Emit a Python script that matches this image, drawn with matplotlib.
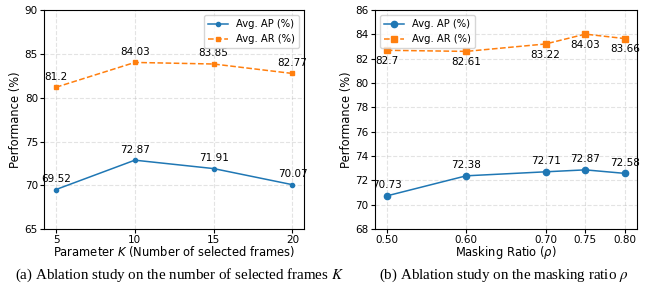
import matplotlib.pyplot as plt

# (a) number of selected frames K
k_values = [5, 10, 15, 20]
k_ap = [69.52, 72.87, 71.91, 70.07]
k_ar = [81.2, 84.03, 83.85, 82.77]
k_ap_labels = ['69.52', '72.87', '71.91', '70.07']
k_ar_labels = ['81.2', '84.03', '83.85', '82.77']

# (b) masking ratio rho
rho_values = [0.50, 0.60, 0.70, 0.75, 0.80]
rho_ticks = ['0.50', '0.60', '0.70', '0.75', '0.80']
rho_ap = [70.73, 72.38, 72.71, 72.87, 72.58]
rho_ar = [82.7, 82.61, 83.22, 84.03, 83.66]
rho_ap_labels = ['70.73', '72.38', '72.71', '72.87', '72.58']
rho_ar_labels = ['82.7', '82.61', '83.22', '84.03', '83.66']

blue = '#1f77b4'
orange = '#ff7f0e'
tick_fs = 7.5
label_fs = 8.3
note_fs = 7.5
legend_fs = 7.2

fig = plt.figure(figsize=(6.6, 2.9), dpi=100)
ax1 = fig.add_axes([0.067, 0.21, 0.394, 0.755])
ax2 = fig.add_axes([0.568, 0.21, 0.397, 0.755])

# left panel
ax1.plot(k_values, k_ap, '-o', color=blue, lw=1.1, ms=3, label='Avg. AP (%)')
ax1.plot(k_values, k_ar, '--s', color=orange, lw=1.1, ms=3, label='Avg. AR (%)')
for x, y, t in zip(k_values, k_ap, k_ap_labels):
    ax1.annotate(t, (x, y), xytext=(0, 4), textcoords='offset points',
                 ha='center', va='bottom', fontsize=note_fs)
for x, y, t in zip(k_values, k_ar, k_ar_labels):
    ax1.annotate(t, (x, y), xytext=(0, 4), textcoords='offset points',
                 ha='center', va='bottom', fontsize=note_fs)
ax1.set_ylim(65, 90)
ax1.set_xticks(k_values)
ax1.set_xlabel('Parameter $K$ (Number of selected frames)', fontsize=label_fs, labelpad=-1)
ax1.set_ylabel('Performance (%)', fontsize=label_fs, labelpad=2)
ax1.legend(loc='upper right', fontsize=legend_fs)
ax1.grid(True, linestyle='--', alpha=0.35)

# right panel
ax2.plot(rho_values, rho_ap, '-o', color=blue, lw=1.1, ms=4.5, label='Avg. AP (%)')
ax2.plot(rho_values, rho_ar, '--s', color=orange, lw=1.1, ms=4.5, label='Avg. AR (%)')
for x, y, t in zip(rho_values, rho_ap, rho_ap_labels):
    ax2.annotate(t, (x, y), xytext=(0, 4), textcoords='offset points',
                 ha='center', va='bottom', fontsize=note_fs)
for x, y, t in zip(rho_values, rho_ar, rho_ar_labels):
    ax2.annotate(t, (x, y), xytext=(0, -4), textcoords='offset points',
                 ha='center', va='top', fontsize=note_fs)
ax2.set_ylim(68, 86)
ax2.set_yticks(range(68, 87, 2))
ax2.set_xticks(rho_values)
ax2.set_xticklabels(rho_ticks)
ax2.set_xlabel(r'Masking Ratio ($\rho$)', fontsize=label_fs, labelpad=-1)
ax2.set_ylabel('Performance (%)', fontsize=label_fs, labelpad=2)
ax2.legend(loc='upper left', fontsize=legend_fs)
ax2.grid(True, linestyle='--', alpha=0.35)

for ax in (ax1, ax2):
    ax.tick_params(labelsize=tick_fs, length=3, pad=1.5)

cap = dict(fontsize=10.8, family='Liberation Serif', math_fontfamily='stix',
           ha='center', va='center')
fig.text(179 / 660, 0.052, '(a) Ablation study on the number of selected frames $K$', **cap)
fig.text(504 / 660, 0.052, r'(b) Ablation study on the masking ratio $\rho$', **cap)

fig.savefig('out.png', dpi=100)
